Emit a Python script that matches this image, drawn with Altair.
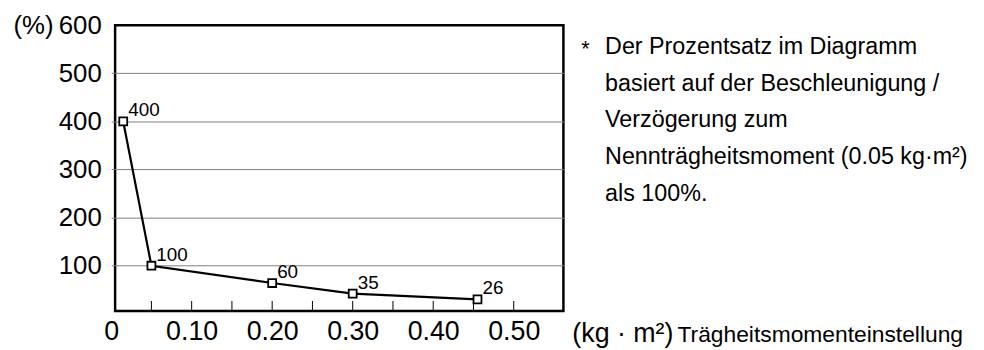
import altair as alt
import pandas as pd

# ---- data ----
inertia = [0.015, 0.05, 0.20, 0.30, 0.455]         # kg·m²
percent = [400, 100, 64, 42, 30]                   # plotted position (%)
point_labels = ["400", "100", "60", "35", "26"]    # printed labels
x_label_values = [0, 0.1, 0.2, 0.3, 0.4, 0.5]
x_tick_values = [0.05, 0.10, 0.15, 0.20, 0.25, 0.30, 0.35, 0.40, 0.45, 0.50]
y_tick_values = [100, 200, 300, 400, 500, 600]
note_lines = [
    "Der Prozentsatz im Diagramm",
    "basiert auf der Beschleunigung /",
    "Verzögerung zum",
    "Nennträgheitsmoment (0.05 kg·m²)",
    "als 100%.",
]
x_unit = "(kg · m²)"
x_title = "Trägheitsmomenteinstellung"
y_unit = "(%)"

FONT = "Liberation Sans"
W, H = 452, 288

df = pd.DataFrame({"x": inertia, "y": percent, "label": point_labels})
ticks_df = pd.DataFrame({"x": x_tick_values})
one = pd.DataFrame({"d": [0]})

xscale = alt.Scale(domain=[0, 0.5617], range=[-4, W], nice=False, zero=False)
yscale = alt.Scale(domain=[6, 600], nice=False, zero=False)

xaxis = alt.Axis(
    values=x_label_values,
    labelExpr="datum.value == 0 ? '0' : format(datum.value, '.2f')",
    tickSize=0, domain=False, grid=False,
    labelFontSize=27, labelPadding=8, labelColor="black",
    labelFlush=False, labelOverlap=False, labelBound=False, title=None,
)
yaxis = alt.Axis(
    values=y_tick_values, tickSize=0, domain=False,
    grid=True, gridColor="#808080", gridWidth=1,
    gridOpacity=alt.condition("datum.value >= 600", alt.value(0), alt.value(1)),
    labelFontSize=26, labelPadding=14, labelColor="black",
    title=y_unit, titleAngle=0, titleX=-103, titleY=0,
    titleAlign="left", titleBaseline="middle",
    titleFontSize=26, titleFontWeight="normal", titleColor="black",
)

base = alt.Chart(df).encode(
    x=alt.X("x:Q", scale=xscale, axis=xaxis),
    y=alt.Y("y:Q", scale=yscale, axis=yaxis),
)

line = base.mark_line(color="black", strokeWidth=2.2)
points = base.mark_point(shape="square", filled=True, fill="white",
                         stroke="black", strokeWidth=1.8, size=64, opacity=1)
labels = base.mark_text(align="left", baseline="bottom", dx=5, dy=-1,
                        fontSize=19, color="black").encode(text="label:N")

inner_ticks = alt.Chart(ticks_df).mark_rule(color="black", strokeWidth=1).encode(
    x=alt.X("x:Q", scale=xscale),
    y=alt.value(H),
    y2=alt.value(H - 10),
)

star = alt.Chart(one).mark_text(text="*", align="left", baseline="alphabetic",
                                fontSize=22, color="black").encode(
    x=alt.value(470), y=alt.value(31))
note = alt.Chart(one).mark_text(text=note_lines, align="left", baseline="alphabetic",
                                lineHeight=37, fontSize=23.5, color="black").encode(
    x=alt.value(494), y=alt.value(29))
unit = alt.Chart(one).mark_text(text=x_unit, align="left", baseline="alphabetic",
                                fontSize=27, color="black").encode(
    x=alt.value(461), y=alt.value(319))
xt = alt.Chart(one).mark_text(text=x_title, align="left", baseline="alphabetic",
                              fontSize=23, color="black").encode(
    x=alt.value(567), y=alt.value(319))

chart = alt.layer(line, points, labels, inner_ticks, star, note, unit, xt).properties(
    width=W, height=H,
    padding={"left": 108, "top": 16, "right": 416, "bottom": 38},
    autosize=alt.AutoSizeParams(type="none"),
).configure(font=FONT).configure_view(stroke="black", strokeWidth=2.5)

chart.save("out.html", embed_options={"renderer": "svg", "actions": False})
